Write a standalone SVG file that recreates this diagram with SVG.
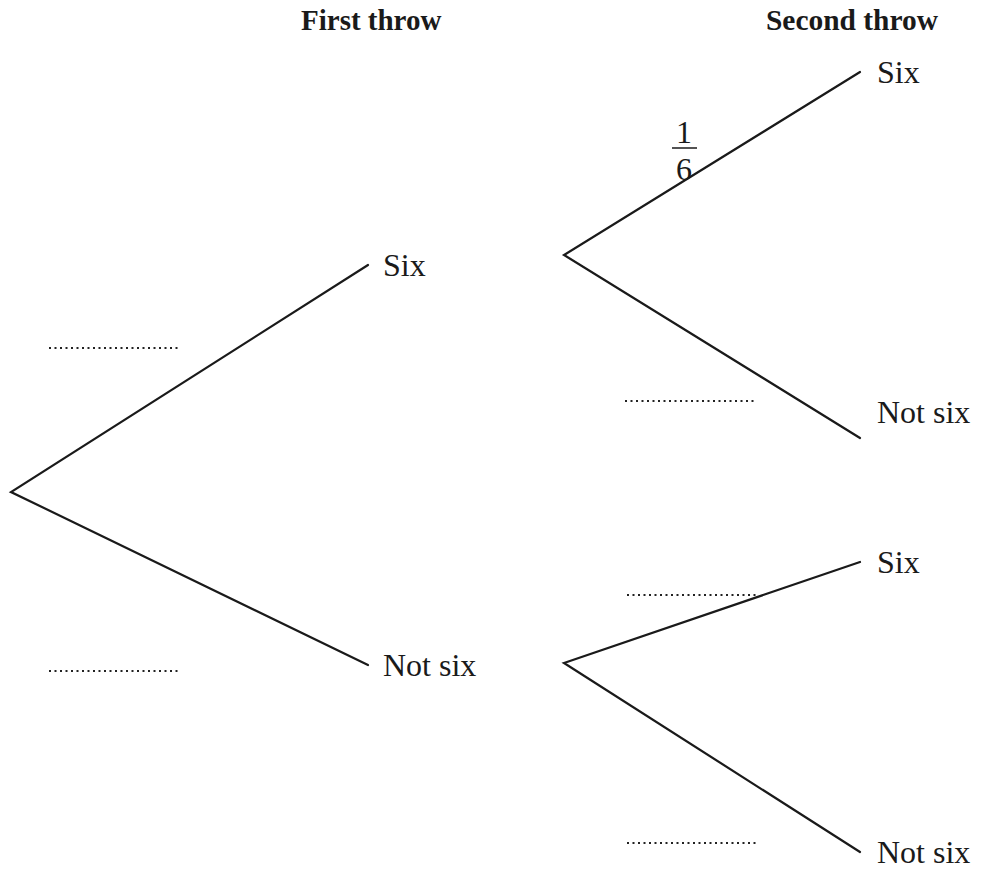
<svg xmlns="http://www.w3.org/2000/svg" width="981" height="888" viewBox="0 0 981 888">
  <style>
    .branch { stroke: #1a1a1a; stroke-width: 2.2; fill: none; stroke-linecap: round; }
    .blank { stroke: #222; stroke-width: 2; stroke-dasharray: 2 3.5; fill: none; }
    .label { font-family: "Liberation Serif", "Times New Roman", serif; font-size: 32px; fill: #1a1a1a; }
    .head { font-family: "Liberation Serif", "Times New Roman", serif; font-size: 29px; font-weight: bold; fill: #1a1a1a; }
  </style>
  <rect width="981" height="888" fill="#ffffff"/>

  <!-- column headings -->
  <text class="head" x="301" y="30">First throw</text>
  <text class="head" x="766" y="30" textLength="172" lengthAdjust="spacingAndGlyphs">Second throw</text>

  <!-- tree branches -->
  <g id="connectors">
    <polyline class="branch" points="368,265 11,492 368,665"/>
    <polyline class="branch" points="860,72 564,255 860,438"/>
    <polyline class="branch" points="860,562 564,663 860,852"/>
  </g>

  <!-- outcome labels -->
  <g id="first-six"><text class="label" x="383" y="276">Six</text></g>
  <g id="first-notsix"><text class="label" x="383" y="676">Not six</text></g>
  <g id="six-six"><text class="label" x="877" y="83">Six</text></g>
  <g id="six-notsix"><text class="label" x="877" y="423">Not six</text></g>
  <g id="notsix-six"><text class="label" x="877" y="573">Six</text></g>
  <g id="notsix-notsix"><text class="label" x="877" y="863">Not six</text></g>

  <!-- given probability -->
  <g id="prob-six-six">
    <text class="label" x="684" y="143" text-anchor="middle">1</text>
    <line x1="672" y1="148" x2="697" y2="148" stroke="#1a1a1a" stroke-width="1.5"/>
    <text class="label" x="684" y="180" text-anchor="middle">6</text>
  </g>

  <!-- answer spaces -->
  <g id="answer-blanks">
    <line class="blank" x1="49" y1="348" x2="181" y2="348"/>
    <line class="blank" x1="49" y1="671" x2="181" y2="671"/>
    <line class="blank" x1="625" y1="401" x2="757" y2="401"/>
    <line class="blank" x1="627" y1="595" x2="759" y2="595"/>
    <line class="blank" x1="627" y1="843" x2="759" y2="843"/>
  </g>
</svg>
